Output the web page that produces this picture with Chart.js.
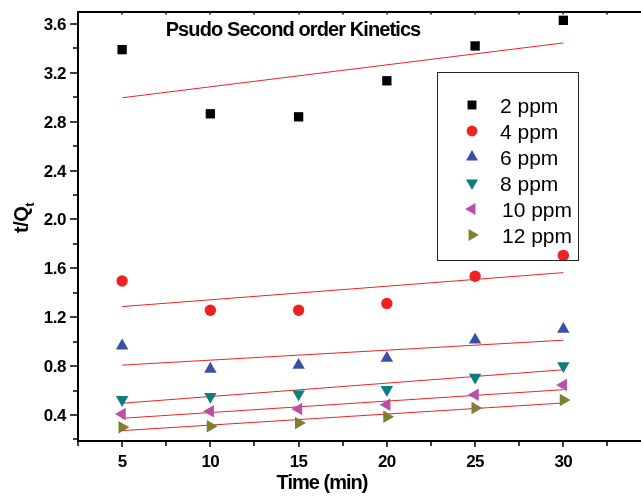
<!DOCTYPE html>
<html><head><meta charset="utf-8">
<script src="https://cdn.jsdelivr.net/npm/chart.js@4.4.1/dist/chart.umd.min.js"></script>
<style>html,body{margin:0;padding:0;background:#fff;overflow:hidden}canvas{display:block}</style>
</head><body><canvas id="c" width="641" height="498"></canvas>
<script>
const times = [5, 10, 15, 20, 25, 30];
const seriesNames = ['2 ppm', '4 ppm', '6 ppm', '8 ppm', '10 ppm', '12 ppm'];
const ppm2 = [3.39, 2.865, 2.84, 3.135, 3.42, 3.63];
const ppm4 = [1.496, 1.257, 1.257, 1.312, 1.535, 1.706];
const ppm6 = [0.966, 0.776, 0.808, 0.865, 1.015, 1.102];
const ppm8 = [0.525, 0.55, 0.571, 0.607, 0.708, 0.803];
const ppm10 = [0.408, 0.43, 0.449, 0.484, 0.566, 0.645];
const ppm12 = [0.30, 0.308, 0.335, 0.386, 0.457, 0.522];
const fitX = [5, 30];
const fit2 = [2.996, 3.445];
const fit4 = [1.287, 1.565];
const fit6 = [0.808, 1.012];
const fit8 = [0.496, 0.77];
const fit10 = [0.373, 0.607];
const fit12 = [0.272, 0.498];
const xTicks = [5, 10, 15, 20, 25, 30];
const yTicks = [0.4, 0.8, 1.2, 1.6, 2.0, 2.4, 2.8, 3.2, 3.6];

const values = [ppm2, ppm4, ppm6, ppm8, ppm10, ppm12];
const fits = [fit2, fit4, fit6, fit8, fit10, fit12];
const colors = ['#000000', '#ee2222', '#3a4fa6', '#0b7f7a', '#bb4fa8', '#7f7f30'];
const styles = ['rect', 'circle', 'triangle', 'triangle', 'triangle', 'triangle'];
const rots = [0, 0, 0, 180, 270, 90];
const radii = [6.6, 5.7, 7.2, 7.2, 7.2, 7.2];

const datasets = [];
fits.forEach((f) => {
  datasets.push({type: 'line', data: fitX.map((x, i) => ({x, y: f[i]})), borderColor: '#ee2222', borderWidth: 1, pointRadius: 0, fill: false, order: 2});
});
values.forEach((v, k) => {
  datasets.push({type: 'scatter', label: seriesNames[k], data: times.map((x, i) => ({x, y: v[i]})),
    backgroundColor: colors[k], borderColor: colors[k], borderWidth: 0, pointStyle: styles[k], pointRotation: rots[k], pointRadius: radii[k], order: 1});
});

const FONT = '"Liberation Sans", Arial, sans-serif';
const decor = {
  id: 'decor',
  afterDraw(chart) {
    const ctx = chart.ctx, xs = chart.scales.x, ys = chart.scales.y, a = chart.chartArea;
    ctx.save();
    ctx.strokeStyle = '#000'; ctx.lineWidth = 2;
    ctx.beginPath();
    ctx.moveTo(a.left - 1, a.top); ctx.lineTo(641, a.top);
    ctx.moveTo(a.left, a.top); ctx.lineTo(a.left, a.bottom);
    ctx.moveTo(a.left - 1, a.bottom); ctx.lineTo(641, a.bottom);
    ctx.stroke();
    ctx.lineWidth = 1.5;
    ctx.beginPath();
    for (let v = 2.5; v <= 34.4; v += 2.5) {
      const px = Math.round(xs.getPixelForValue(v));
      const major = Math.abs(v % 5) < 1e-6;
      ctx.moveTo(px, a.bottom); ctx.lineTo(px, a.bottom + (major ? 6 : 5));
      ctx.moveTo(px, a.top); ctx.lineTo(px, a.top + 2.5);
    }
    for (let v = 0.2; v <= 3.7; v += 0.2) {
      const py = Math.round(ys.getPixelForValue(v));
      const major = Math.abs((v / 0.4) - Math.round(v / 0.4)) < 1e-6;
      ctx.moveTo(a.left, py); ctx.lineTo(a.left - (major ? 8 : 5), py);
    }
    ctx.stroke();
    ctx.fillStyle = '#000';
    ctx.font = 'bold 17px ' + FONT;
    ctx.textAlign = 'center'; ctx.textBaseline = 'alphabetic';
    try { ctx.letterSpacing = '-0.5px'; } catch (e) {}
    xTicks.forEach(t => ctx.fillText(String(t), xs.getPixelForValue(t), 467));
    ctx.textAlign = 'right';
    yTicks.forEach(t => ctx.fillText(t.toFixed(1), 66, ys.getPixelForValue(t) + 6));
    // axis titles
    ctx.font = 'bold 20px ' + FONT;
    try { ctx.letterSpacing = '-1px'; } catch (e) {}
    ctx.textAlign = 'center';
    ctx.fillText('Time (min)', 322, 489);
    ctx.save();
    ctx.translate(28, 233); ctx.rotate(-Math.PI / 2);
    ctx.textAlign = 'left';
    ctx.font = 'bold 20px ' + FONT;
    try { ctx.letterSpacing = '-0.5px'; } catch (e) {}
    const m1 = ctx.measureText('t/Q').width;
    ctx.fillText('t/Q', 0, 0);
    ctx.font = 'bold 13px ' + FONT;
    ctx.fillText('t', m1, 6);
    ctx.restore();
    // title
    ctx.font = 'bold 20px ' + FONT;
    ctx.textAlign = 'center'; ctx.textBaseline = 'alphabetic';
    try { ctx.letterSpacing = '-0.9px'; } catch (e) {}
    ctx.fillText('Psudo Second order Kinetics', 293, 36);
    try { ctx.letterSpacing = '0px'; } catch (e) {}
    // legend
    ctx.lineWidth = 1; ctx.strokeStyle = '#222';
    ctx.strokeRect(437.5, 72.5, 141, 188);
    ctx.font = '21px ' + FONT;
    ctx.textAlign = 'left'; ctx.textBaseline = 'alphabetic';
    seriesNames.forEach((n, k) => {
      const y = 105 + k * 26;
      ctx.fillStyle = colors[k]; ctx.strokeStyle = colors[k];
      Chart.helpers.drawPoint(ctx, {pointStyle: styles[k], rotation: rots[k], radius: radii[k] - 0.3, borderWidth: 0}, 472, y);
      ctx.fillStyle = '#000';
      ctx.fillText(n, k >= 4 ? 502 : 500, y + 8);
    });
    ctx.restore();
  }
};

new Chart(document.getElementById('c'), {
  data: {datasets},
  options: {
    responsive: false, animation: false,
    layout: {autoPadding: false, padding: {top: 12, right: 0, left: 0, bottom: 0}},
    plugins: {legend: {display: false}, tooltip: {enabled: false}},
    scales: {
      x: {type: 'linear', min: 2.5, max: 34.4, grid: {display: false}, border: {display: false}, ticks: {display: false},
        afterFit(s) { s.height = 57; s.paddingRight = 0; s.paddingLeft = 0; }},
      y: {type: 'linear', min: 0.187, max: 3.698, grid: {display: false}, border: {display: false}, ticks: {display: false},
        afterFit(s) { s.width = 78; s.paddingTop = 0; s.paddingBottom = 0; }}
    }
  },
  plugins: [decor]
});
</script></body></html>
